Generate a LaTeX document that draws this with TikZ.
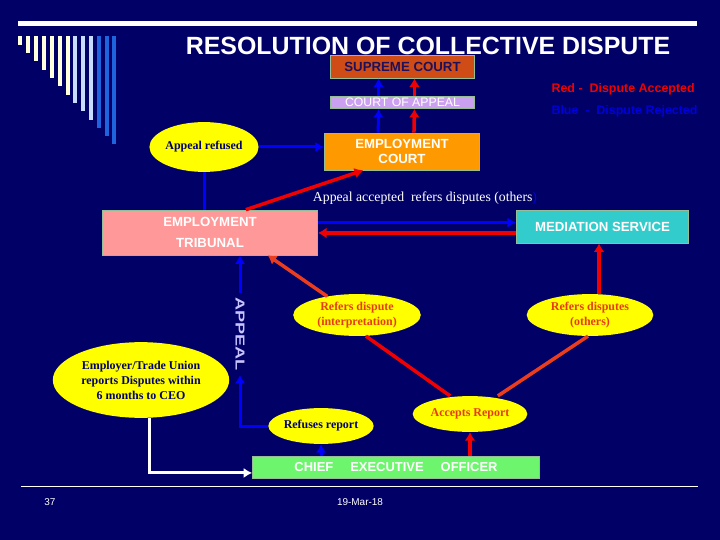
\documentclass[tikz,border=0pt]{standalone}
\usepackage{fontspec}
\setmainfont{Liberation Sans}
\newfontfamily\timesfont{Liberation Serif}
\usetikzlibrary{arrows.meta, calc, shapes.geometric}

\definecolor{slidebg}{RGB}{0,0,102}
\definecolor{boxedge}{RGB}{150,190,150}
\definecolor{supremefill}{RGB}{208,76,22}
\definecolor{supremetext}{RGB}{30,16,90}
\definecolor{appealfill}{RGB}{204,160,240}
\definecolor{courtfill}{RGB}{255,153,0}
\definecolor{tribunalfill}{RGB}{255,153,153}
\definecolor{mediationfill}{RGB}{51,204,204}
\definecolor{ceofill}{RGB}{110,245,110}
\definecolor{bubbleyellow}{RGB}{255,255,0}
\definecolor{bubblenavy}{RGB}{0,0,110}
\definecolor{bubbleorange}{RGB}{230,60,20}
\definecolor{arrowblue}{RGB}{0,0,255}
\definecolor{arrowred}{RGB}{240,0,0}
\definecolor{arroworange}{RGB}{235,60,30}
\definecolor{barcream}{RGB}{255,255,220}
\definecolor{barpale}{RGB}{200,220,255}
\definecolor{barblue}{RGB}{30,100,220}
\definecolor{appealword}{RGB}{200,195,255}

\begin{document}
\begin{tikzpicture}[
  x=1bp, y=-1bp,
  box/.style = {draw=boxedge, line width=0.8bp, inner sep=0pt, align=center, text=white,
                font=\bfseries\fontsize{13.3}{15}\selectfont},
  bubble/.style = {ellipse, fill=bubbleyellow, inner sep=0pt, align=center,
                   font=\timesfont\bfseries\fontsize{12}{15}\selectfont},
  bluearrow/.style = {line width=3bp, draw=arrowblue, -{Latex[width=3.6mm,length=3mm]}},
  redarrow/.style = {line width=3.5bp, draw=arrowred, -{Latex[width=3.8mm,length=3mm]}},
  redline/.style = {line width=3.5bp, draw=arroworange},
  legend/.style = {anchor=west, font=\bfseries\fontsize{12.5}{14}\selectfont}
]

  % slide background and frame lines
  \fill[slidebg] (0,0) rectangle (720,540);
  \fill[white] (18,21) rectangle (697,26);
  \draw[white, line width=1bp] (21,486) -- (698,486);

  % bars in the top left corner
  \foreach \bx/\by/\bc in {18/45/barcream, 26/53/barcream, 34/61/barcream, 42/70/barcream,
                           50/78/barcream, 58/86/barcream, 66/95/barcream, 73/103/barpale,
                           81/111/barpale, 89/120/barpale, 97/128/barblue, 105/136/barblue,
                           112/144/barblue}
    \fill[\bc] (\bx,36) rectangle ++(3.8,\by-36);

  % Title
  \node[text=white, font=\bfseries\fontsize{25}{28}\selectfont] (title) at (428,46)
    {RESOLUTION OF COLLECTIVE DISPUTE};

  % Courts
  \node[box, fill=supremefill, text=supremetext, minimum width=145, minimum height=23]
    (supreme) at (402.5,66.5) {SUPREME COURT};
  \node[box, fill=appealfill, font=\fontsize{12.3}{12}\selectfont, minimum width=145, minimum height=12]
    (appealcourt) at (402.5,102.5) {COURT OF APPEAL};
  \node[box, fill=courtfill, minimum width=156, minimum height=37]
    (empcourt) at (402,151.5) {EMPLOYMENT\\COURT};

  % Legend
  \node[legend, text=arrowred] (legendred) at (548,89) {Red -\ \ Dispute Accepted};
  \node[legend, text=arrowblue!85!black] (legendblue) at (548,111) {Blue\ \ -\ \ Dispute Rejected};

  % Tribunal and mediation
  \node[bubble, text=bubblenavy, minimum width=96, minimum height=50]
    (refused) at (204,147) {Appeal refused};
  \node[box, fill=tribunalfill, font=\bfseries\fontsize{13.3}{21}\selectfont, minimum width=216, minimum height=45]
    (tribunal) at (210,232.5) {EMPLOYMENT\\TRIBUNAL};
  \node[box, fill=mediationfill, minimum width=173, minimum height=33]
    (mediation) at (602.5,226.5) {MEDIATION SERVICE};
  \node[text=white, font=\timesfont\fontsize{13.8}{15}\selectfont] (acceptnote) at (425,198)
    {Appeal accepted\ \ refers disputes (others\textcolor{arrowblue}{)}};

  % Reports and referrals
  \node[bubble, text=bubblenavy, minimum width=177, minimum height=76]
    (employer) at (141,380) {Employer/Trade Union\\reports Disputes within\\6 months to CEO};
  \node[bubble, text=bubbleorange, minimum width=128, minimum height=42]
    (interp) at (357,315) {Refers dispute\\(interpretation)};
  \node[bubble, text=bubbleorange, minimum width=127, minimum height=42]
    (others) at (590,315) {Refers disputes\\(others)};
  \node[bubble, text=bubblenavy, minimum width=91, minimum height=36]
    (refuses) at (321,426) {Refuses report};
  \node[bubble, text=bubbleorange, minimum width=115, minimum height=36]
    (accepts) at (470,414) {Accepts Report};
  \node[box, fill=ceofill, font=\bfseries\fontsize{13}{15}\selectfont, minimum width=288, minimum height=22]
    (ceo) at (396,467) {CHIEF\hspace{17bp}EXECUTIVE\hspace{17bp}OFFICER};
  \node[rotate=-90, text=appealword, font=\bfseries\fontsize{13}{13}\selectfont, inner sep=4pt]
    (appeal) at (240,334) {\scalebox{1.4}[1]{APPEAL}};

  % connectors up the courts
  \draw[bluearrow] ([xshift=-24]empcourt.north) -- ([xshift=-24]appealcourt.south);
  \draw[bluearrow] ([xshift=-24]appealcourt.north) -- ([xshift=-24]supreme.south);
  \draw[redarrow] ([xshift=12]empcourt.north) -- ([xshift=12]appealcourt.south);
  \draw[redarrow] ([xshift=12]appealcourt.north) -- ([xshift=12]supreme.south);
  \draw[bluearrow] (refused.east) -- (refused.east -| empcourt.west);
  \draw[line width=3bp, arrowblue] (tribunal.north -| refused.south) -- (refused.south);
  \draw[redarrow] ([xshift=36]tribunal.north) -- ([xshift=-39]empcourt.south);

  % tribunal <-> mediation
  \draw[bluearrow] ([yshift=10]tribunal.east) -- ([yshift=10]tribunal.east -| mediation.west);
  \draw[redarrow] ([yshift=-6.5]mediation.west) -- ([yshift=-6.5]mediation.west -| tribunal.east);

  % referrals
  \draw[redline, -{Latex[width=3.8mm,length=3mm]}] (interp.148) -- ([xshift=58]tribunal.south);
  \draw[redarrow] ([xshift=9]others.north) -- ([xshift=9]others.north |- mediation.south);
  \draw[line width=3.5bp, arrowred] ([xshift=-20]accepts.north) -- ([xshift=9]interp.south);
  \draw[redline] ([xshift=28]accepts.north) -- ([xshift=-2]others.south);

  % from the CEO
  \draw[bluearrow] (ceo.north -| refuses.south) -- (refuses.south);
  \draw[redarrow] (ceo.north -| accepts.south) -- (accepts.south);
  \draw[line width=3bp, white, -{Latex[width=3.6mm,length=3mm]}]
    ([xshift=9]employer.south) |- ([yshift=-6]ceo.west);
  \draw[bluearrow] (refuses.west) -| (appeal.east);
  \draw[bluearrow] (appeal.west) -- (appeal.west |- tribunal.south);

  % footer
  \node[text=white, font=\fontsize{10}{12}\selectfont] (slideno) at (50,502) {37};
  \node[text=white, font=\fontsize{10}{12}\selectfont] (slidedate) at (360,502) {19-Mar-18};

\end{tikzpicture}
\end{document}
